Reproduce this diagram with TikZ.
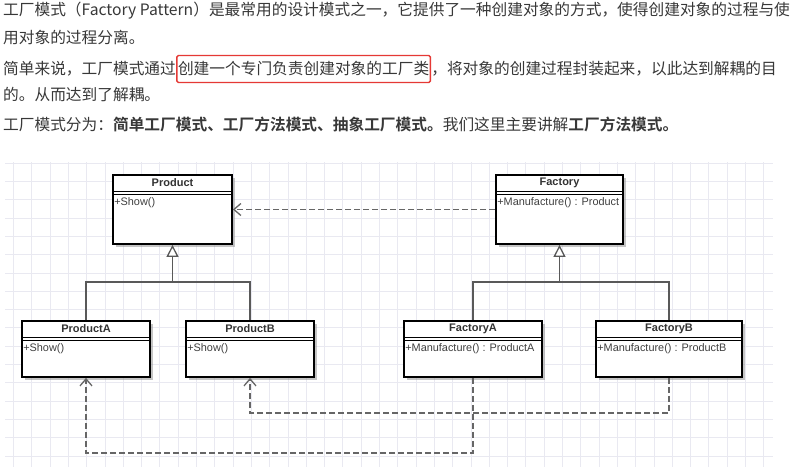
\documentclass[tikz,border=0pt]{standalone}
\usepackage{fontspec}
\setmainfont{Noto Sans CJK SC}[BoldFont={Noto Sans CJK SC Bold}]
\newfontfamily\umlfont{Liberation Sans}
\usepackage{xcolor}
\usetikzlibrary{arrows.meta, positioning, shadows}

\definecolor{ink}{HTML}{383838}
\definecolor{hired}{HTML}{E53935}
\definecolor{gridline}{HTML}{E9E9F1}

\begin{document}
\begin{tikzpicture}[
  x=1pt, y=-1pt,
  para/.style={anchor=west, inner sep=0pt, text=ink, font=\fontsize{15.7}{18}\selectfont},
  hilite/.style={para, draw=hired, line width=1.4pt, rounded corners=1.5pt, minimum height=27pt, inner xsep=1.2pt},
  cls/.style={rectangle, draw=black, line width=1.8pt, fill=white, inner sep=0pt,
    drop shadow={shadow xshift=2.5pt, shadow yshift=-2.5pt, fill=black!45, opacity=0.5}},
  clsname/.style={font=\umlfont\bfseries\fontsize{11}{12}\selectfont, text=black!80, inner sep=1pt},
  clsop/.style={anchor=west, font=\umlfont\fontsize{10.9}{12}\selectfont, text=black!75, inner sep=1pt},
  sep/.style={line width=1.1pt},
  gen/.style={draw=black!65, line width=1.3pt, -{Triangle[fill=white, length=12pt, width=12pt]}},
  link/.style={draw=black!65, line width=1.3pt},
  dep/.style={draw=black!60, line width=1.3pt, dash pattern=on 6pt off 3pt, -{Straight Barb[length=7pt, width=12pt]}}
]
\fill[white] (0,0) rectangle (797,467);
\useasboundingbox (0,0) rectangle (797,467);

% text above the diagram
\node[para] (line1) at (3,11) {工厂模式（Factory Pattern）是最常用的设计模式之一，它提供了一种创建对象的方式，使得创建对象的过程与使};
\node[para] (line2) at (3,37.5) {用对象的过程分离。};
\node[para] (intro) at (3,69) {简单来说，工厂模式通过};
\node[hilite, right=0pt of intro] (key) {创建一个专门负责创建对象的工厂类};
\node[para, right=0pt of key] (rest) {，将对象的创建过程封装起来，以此达到解耦的目};
\node[para] (line4) at (3,95) {的。从而达到了解耦。};
\node[para] (line5) at (3,124) {工厂模式分为：\textbf{简单工厂模式、工厂方法模式、抽象工厂模式。}我们这里主要讲解\textbf{工厂方法模式。}};

% grid
\foreach \gx in {13.3,31.6,...,772} \draw[gridline, line width=0.6pt] (\gx,162) -- (\gx,467);
\foreach \gy in {163,181.3,...,467} \draw[gridline, line width=0.6pt] (5,\gy) -- (773,\gy);

% classes
\node[cls, minimum width=119pt, minimum height=69pt] (product) at (172.5,209.5) {};
\node[cls, minimum width=127pt, minimum height=69pt] (factory) at (559.5,209.5) {};
\node[cls, minimum width=128pt, minimum height=56pt] (productA) at (86,349) {};
\node[cls, minimum width=128pt, minimum height=56pt] (productB) at (250,349) {};
\node[cls, minimum width=138pt, minimum height=56pt] (factoryA) at (473,349) {};
\node[cls, minimum width=146pt, minimum height=56pt] (factoryB) at (669,349) {};

\node[clsname] (productname) at ([yshift=-8.5pt]product.north) {Product};
\node[clsname] (factoryname) at ([yshift=-8.5pt]factory.north) {Factory};
\node[clsname] (productAname) at ([yshift=-8.5pt]productA.north) {ProductA};
\node[clsname] (productBname) at ([yshift=-8.5pt]productB.north) {ProductB};
\node[clsname] (factoryAname) at ([yshift=-8.5pt]factoryA.north) {FactoryA};
\node[clsname] (factoryBname) at ([yshift=-8.5pt]factoryB.north) {FactoryB};

\draw[sep] ([yshift=-17pt]product.north west) -- ([yshift=-17pt]product.north east);
\draw[sep] ([yshift=-20.5pt]product.north west) -- ([yshift=-20.5pt]product.north east);
\draw[sep] ([yshift=-17pt]factory.north west) -- ([yshift=-17pt]factory.north east);
\draw[sep] ([yshift=-20.5pt]factory.north west) -- ([yshift=-20.5pt]factory.north east);
\draw[sep] ([yshift=-17pt]productA.north west) -- ([yshift=-17pt]productA.north east);
\draw[sep] ([yshift=-20.5pt]productA.north west) -- ([yshift=-20.5pt]productA.north east);
\draw[sep] ([yshift=-17pt]productB.north west) -- ([yshift=-17pt]productB.north east);
\draw[sep] ([yshift=-20.5pt]productB.north west) -- ([yshift=-20.5pt]productB.north east);
\draw[sep] ([yshift=-17pt]factoryA.north west) -- ([yshift=-17pt]factoryA.north east);
\draw[sep] ([yshift=-20.5pt]factoryA.north west) -- ([yshift=-20.5pt]factoryA.north east);
\draw[sep] ([yshift=-17pt]factoryB.north west) -- ([yshift=-17pt]factoryB.north east);
\draw[sep] ([yshift=-20.5pt]factoryB.north west) -- ([yshift=-20.5pt]factoryB.north east);

\node[clsop] (productop) at ([xshift=1pt, yshift=-28.5pt]product.north west) {+Show()};
\node[clsop] (factoryop) at ([xshift=1pt, yshift=-28.5pt]factory.north west) {+Manufacture() : Product};
\node[clsop] (productAop) at ([xshift=1pt, yshift=-28.5pt]productA.north west) {+Show()};
\node[clsop] (productBop) at ([xshift=1pt, yshift=-28.5pt]productB.north west) {+Show()};
\node[clsop] (factoryAop) at ([xshift=1pt, yshift=-28.5pt]factoryA.north west) {+Manufacture() : ProductA};
\node[clsop] (factoryBop) at ([xshift=1pt, yshift=-28.5pt]factoryB.north west) {+Manufacture() : ProductB};

% inheritance
\coordinate (pbar) at (172.5,282);
\coordinate (fbar) at (559.5,282);
\draw[gen] (productA.north) |- (pbar) -- (product.south);
\draw[link] (productB.north) |- (pbar);
\draw[gen] (factoryA.north) |- (fbar) -- (factory.south);
\draw[link] (factoryB.north) |- (fbar);

% dependencies
\coordinate (aturn) at (473,453);
\coordinate (bturn) at (669,413);
\draw[dep] (factory.west) -- (product.east);
\draw[dep] (factoryA.south) -- (aturn) -| (productA.south);
\draw[dep] (factoryB.south) -- (bturn) -| (productB.south);
\end{tikzpicture}
\end{document}
